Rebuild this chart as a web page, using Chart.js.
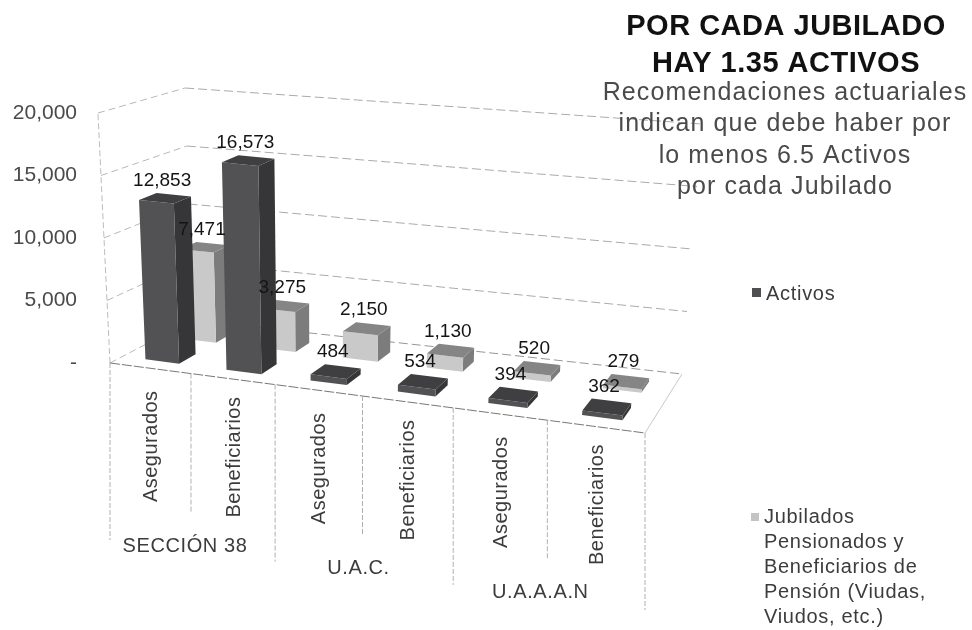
<!DOCTYPE html>
<html>
<head>
<meta charset="utf-8">
<style>
  html, body { margin: 0; padding: 0; background: #fff; }
</style>
<script src="https://cdn.jsdelivr.net/npm/chart.js@4/dist/chart.umd.js"></script>
</head>
<body>
<canvas id="jubiladosChart" width="972" height="630"></canvas>
<script>
const categories = ['Asegurados', 'Beneficiarios', 'Asegurados', 'Beneficiarios', 'Asegurados', 'Beneficiarios'];
const groups = ['SECCIÓN 38', 'U.A.C.', 'U.A.A.A.N'];
const activos = [12853, 16573, 484, 534, 394, 362];
const jubilados = [7471, 3275, 2150, 1130, 520, 279];
const yTicks = [0, 5000, 10000, 15000, 20000];
const titleLines = ['POR CADA JUBILADO', 'HAY 1.35 ACTIVOS'];
const noteLines = ['Recomendaciones actuariales', 'indican que debe haber por', 'lo menos 6.5 Activos', 'por cada Jubilado'];
const legendActivos = ['Activos'];
const legendJubilados = ['Jubilados', 'Pensionados y', 'Beneficiarios de', 'Pensión (Viudas,', 'Viudos, etc.)'];

const fontName = '"Liberation Sans", Arial, sans-serif';
const fmt = n => n === 0 ? '-' : n.toLocaleString('en-US');

// floor of the 3d box as seen on the page: front-left, front-right, back-right, back-left
const floor = [[110, 363], [645, 433], [682, 374], [192, 320]];
const wallHeight = [250, 262, 250, 232]; // px for the full y range, same corner order

const [p0, p1, p2, p3] = floor;
const dx1 = p1[0] - p2[0], dx2 = p3[0] - p2[0], sx = p0[0] - p1[0] + p2[0] - p3[0];
const dy1 = p1[1] - p2[1], dy2 = p3[1] - p2[1], sy = p0[1] - p1[1] + p2[1] - p3[1];
const den = dx1 * dy2 - dx2 * dy1;
const g = (sx * dy2 - dx2 * sy) / den;
const h = (dx1 * sy - sx * dy1) / den;

// u along the categories, d into the depth, v share of the y range
function project(uFlat, d, v) {
  const u = uFlat + 0.08 * uFlat * (1 - uFlat); // the scan is closer to even spacing than true perspective
  const w = g * u + h * d + 1;
  const x = ((p1[0] - p0[0] + g * p1[0]) * u + (p3[0] - p0[0] + h * p3[0]) * d + p0[0]) / w;
  const y = ((p1[1] - p0[1] + g * p1[1]) * u + (p3[1] - p0[1] + h * p3[1]) * d + p0[1]) / w;
  const tall = v * ((1 - u) * (1 - d) * wallHeight[0] + u * (1 - d) * wallHeight[1] + u * d * wallHeight[2] + (1 - u) * d * wallHeight[3]);
  return [x + (x - 325) * 0.000224 * tall, y - tall];
}

function poly(ctx, pts, fill) {
  ctx.beginPath();
  pts.forEach((p, i) => i ? ctx.lineTo(p[0], p[1]) : ctx.moveTo(p[0], p[1]));
  ctx.closePath();
  ctx.fillStyle = fill;
  ctx.fill();
}

function line(ctx, a, b, color, dash) {
  ctx.beginPath();
  ctx.setLineDash(dash || []);
  ctx.strokeStyle = color;
  ctx.lineWidth = 1;
  ctx.moveTo(a[0], a[1]);
  ctx.lineTo(b[0], b[1]);
  ctx.stroke();
  ctx.setLineDash([]);
}

function write(ctx, str, x, y, font, color, align, spacing) {
  ctx.font = font;
  ctx.fillStyle = color;
  ctx.textAlign = align || 'center';
  ctx.textBaseline = 'alphabetic';
  ctx.letterSpacing = (spacing || 0) + 'px';
  ctx.fillText(str, x, y);
  ctx.letterSpacing = '0px';
}

const rows = [
  { dataset: 1, depth: [0.6, 0.8], front: '#c9c9c9', side: '#7c7c7c', top: '#858585' },
  { dataset: 0, depth: [0.14, 0.34], front: '#525254', side: '#363638', top: '#3f3f41' }
];

const box3d = {
  id: 'box3d',
  afterDatasetsDraw(chart) {
    const ctx = chart.ctx;
    const area = chart.chartArea;
    const x = chart.scales.x;
    const y = chart.scales.y;
    const toU = px => (px - area.left) / (area.right - area.left);
    const toV = py => (area.bottom - py) / (area.bottom - area.top);

    ctx.save();
    // walls
    yTicks.forEach(t => {
      const v = toV(y.getPixelForValue(t));
      if (t > 0) {
        line(ctx, project(0, 0, v), project(0, 1, v), '#b8b8b8', [7, 4]);
        line(ctx, project(0, 1, v), project(1, 1, v), '#aaaaaa', [9, 4]);
      }
    });
    line(ctx, project(0, 0, 0), project(0, 0, 1), '#bcbcbc', [6, 3]);
    line(ctx, project(0, 0, 0), project(0, 1, 0), '#b8b8b8', [7, 4]);
    line(ctx, project(0, 1, 0), project(1, 1, 0), '#969696', [9, 4]);
    line(ctx, project(1, 0, 0), project(1, 1, 0), '#c8c8c8');
    line(ctx, project(0, 0, 0), project(1, 0, 0), '#777777', [10, 2]);

    // separators under the floor, longer where a group ends
    categories.concat(['']).forEach((c, i) => {
      const u = i / categories.length;
      const a = project(u, 0, 0);
      line(ctx, a, [a[0], a[1] + (i % 2 ? 138 : 177)], '#b0b0b0', [5, 2]);
    });

    // bars, back row first
    rows.forEach(row => {
      chart.getDatasetMeta(row.dataset).data.forEach(el => {
        const p = el.getProps(['x', 'y', 'width', 'base'], true);
        const u0 = toU(p.x - p.width / 2);
        const u1 = toU(p.x + p.width / 2);
        const v = toV(p.y);
        const d0 = row.depth[0], d1 = row.depth[1];
        poly(ctx, [project(u1, d0, 0), project(u1, d1, 0), project(u1, d1, v), project(u1, d0, v)], row.side);
        poly(ctx, [project(u0, d0, 0), project(u1, d0, 0), project(u1, d0, v), project(u0, d0, v)], row.front);
        poly(ctx, [project(u0, d0, v), project(u1, d0, v), project(u1, d1, v), project(u0, d1, v)], row.top);
      });
    });

    // value labels go on top of everything
    rows.forEach(row => {
      const values = chart.data.datasets[row.dataset].data;
      const mid = (row.depth[0] + row.depth[1]) / 2;
      chart.getDatasetMeta(row.dataset).data.forEach((el, i) => {
        const p = el.getProps(['x', 'y'], true);
        const c = project(toU(p.x), row.depth[1], toV(p.y));
        const m = project(toU(p.x), mid, toV(p.y));
        write(ctx, fmt(values[i]), m[0] - 3, c[1] - 9, '19px ' + fontName, '#141414');
      });
    });

    // category labels
    categories.forEach((c, i) => {
      const a = project(toU(x.getPixelForValue(i)), 0, 0);
      ctx.save();
      ctx.translate(a[0] + 7, a[1] + 78);
      ctx.rotate(-Math.PI / 2);
      write(ctx, c, 0, 0, '20px ' + fontName, '#3c3c3c', 'center', 0.5);
      ctx.restore();
    });
    const nudge = [-6, -4, -7];
    groups.forEach((c, i) => {
      const a = project((2 * i + 1) / groups.length / 2, 0, 0);
      write(ctx, c, a[0] + nudge[i], a[1] + 178, '20px ' + fontName, '#3c3c3c', 'center', 0.6);
    });

    // heading
    titleLines.forEach((t, i) => write(ctx, t, 786, 35 + i * 37, 'bold 29px ' + fontName, '#111', 'center', 0.5));
    noteLines.forEach((t, i) => write(ctx, t, 785, 100 + i * 31.3, '25px ' + fontName, '#4a4a4a', 'center', 1.1));

    // legend
    ctx.fillStyle = '#4f4f51';
    ctx.fillRect(752, 288, 9, 9);
    legendActivos.forEach(t => write(ctx, t, 766, 300, '20px ' + fontName, '#3c3c3c', 'left', 0.7));
    ctx.fillStyle = '#c4c4c4';
    ctx.fillRect(751, 513, 8, 8);
    legendJubilados.forEach((t, i) => write(ctx, t, 764, 523 + i * 25, '20px ' + fontName, '#3c3c3c', 'left', 0.7));
    ctx.restore();
  }
};

const data = {
  labels: categories,
  datasets: [
    { label: legendActivos.join(' '), data: activos, backgroundColor: 'transparent', barPercentage: 0.42, categoryPercentage: 1, grouped: false },
    { label: legendJubilados.join(' '), data: jubilados, backgroundColor: 'transparent', barPercentage: 0.42, categoryPercentage: 1, grouped: false }
  ]
};

const jubiladosChart = new Chart(document.getElementById('jubiladosChart'), {
  type: 'bar',
  data: data,
  options: {
    responsive: false,
    animation: false,
    layout: { padding: { top: 113, bottom: 267, right: 327, left: 0 } },
    plugins: { legend: { display: false }, title: { display: false }, tooltip: { enabled: false } },
    scales: {
      x: { display: false },
      y: {
        min: 0,
        max: 20000,
        afterFit: scale => { scale.width = 110; },
        afterBuildTicks: scale => { scale.ticks = yTicks.map(v => ({ value: v })); },
        border: { display: false },
        grid: { display: false, drawTicks: false },
        ticks: {
          padding: 33,
          color: '#4a4a4a',
          font: { family: 'Liberation Sans', size: 21 },
          callback: fmt
        }
      }
    }
  },
  plugins: [box3d]
});
</script>
</body>
</html>
